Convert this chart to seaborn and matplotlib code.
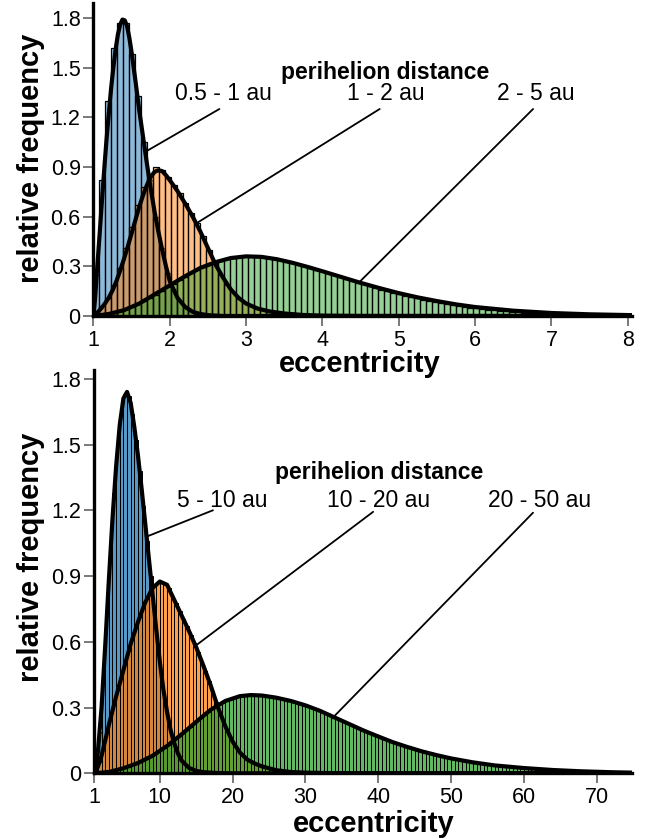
import numpy as np
import pandas as pd
import matplotlib
matplotlib.use("Agg")
import matplotlib.pyplot as plt
import seaborn as sns
from matplotlib.colors import to_rgba

sns.set_style("ticks")
plt.rcParams["font.family"] = ["Liberation Sans", "DejaVu Sans"]
plt.rcParams["text.color"] = "black"
plt.rcParams["axes.labelcolor"] = "black"

# ---------------- data: top panel (perihelion 0.5-5 au) ----------------
top_labels = ["0.5 - 1 au", "1 - 2 au", "2 - 5 au"]
top_xticks = [1, 2, 3, 4, 5, 6, 7, 8]
top_bin_width = 7 / 90

top_blue_bars = [0.25, 0.82, 1.30, 1.62, 1.77, 1.77, 1.58, 1.33, 1.05, 0.82, 0.60, 0.41,
                 0.26, 0.16, 0.09, 0.05, 0.028, 0.016, 0.009, 0.005]
top_orange_bars = [0.02, 0.06, 0.11, 0.19, 0.29, 0.41, 0.54, 0.67, 0.78, 0.86, 0.90, 0.88,
                   0.84, 0.79, 0.74, 0.68, 0.62, 0.56, 0.48, 0.40, 0.32, 0.25, 0.19, 0.145,
                   0.105, 0.078, 0.058, 0.045, 0.034, 0.026, 0.019, 0.014, 0.010, 0.007, 0.005]
top_green_bars = [0.002, 0.005, 0.011, 0.020, 0.030, 0.042, 0.055, 0.071, 0.088, 0.107,
                  0.128, 0.150, 0.172, 0.195, 0.216, 0.238, 0.258, 0.277, 0.293, 0.308,
                  0.322, 0.334, 0.344, 0.352, 0.357, 0.360, 0.361, 0.360, 0.357, 0.352,
                  0.346, 0.339, 0.331, 0.322, 0.312, 0.302, 0.291, 0.280, 0.269, 0.258,
                  0.247, 0.236, 0.225, 0.213, 0.202, 0.191, 0.180, 0.170, 0.159, 0.149,
                  0.140, 0.131, 0.122, 0.114, 0.106, 0.098, 0.091, 0.084, 0.078, 0.072,
                  0.066, 0.061, 0.056, 0.051, 0.047, 0.043, 0.039, 0.035, 0.032, 0.029,
                  0.026, 0.023, 0.020, 0.018, 0.016, 0.014]

top_blue_curve_x = [1.00, 1.02, 1.05, 1.08, 1.11, 1.14, 1.17, 1.20, 1.23, 1.26, 1.29, 1.32,
                    1.35, 1.38, 1.41, 1.44, 1.47, 1.50, 1.55, 1.60, 1.65, 1.70, 1.75, 1.80,
                    1.85, 1.90, 1.95, 2.00, 2.10, 2.20, 2.30, 2.40, 2.50, 2.70, 8.06]
top_blue_curve_y = [0.00, 0.10, 0.30, 0.49, 0.69, 0.88, 1.06, 1.22, 1.37, 1.50, 1.61, 1.70,
                    1.76, 1.79, 1.785, 1.75, 1.68, 1.59, 1.42, 1.24, 1.08, 0.92, 0.77, 0.63,
                    0.51, 0.40, 0.30, 0.21, 0.11, 0.055, 0.025, 0.012, 0.005, 0.0, 0.0]
top_orange_curve_x = [1.00, 1.05, 1.10, 1.15, 1.20, 1.25, 1.30, 1.35, 1.40, 1.45, 1.50, 1.55,
                      1.60, 1.65, 1.70, 1.75, 1.80, 1.85, 1.90, 1.95, 2.00, 2.10, 2.20, 2.30,
                      2.40, 2.50, 2.60, 2.70, 2.80, 2.90, 3.00, 3.15, 3.30, 3.50, 3.75, 4.00,
                      4.50, 8.06]
top_orange_curve_y = [0.00, 0.02, 0.045, 0.075, 0.11, 0.155, 0.21, 0.275, 0.345, 0.42, 0.50,
                      0.58, 0.66, 0.73, 0.79, 0.84, 0.87, 0.88, 0.875, 0.85, 0.82, 0.755,
                      0.68, 0.60, 0.51, 0.41, 0.31, 0.23, 0.16, 0.11, 0.075, 0.045, 0.028,
                      0.015, 0.006, 0.002, 0.0, 0.0]
top_green_curve_x = [1.0, 1.2, 1.4, 1.6, 1.8, 2.0, 2.2, 2.4, 2.6, 2.8, 3.0, 3.2, 3.4, 3.6,
                     3.8, 4.0, 4.25, 4.5, 4.75, 5.0, 5.25, 5.5, 5.75, 6.0, 6.5, 7.0, 7.5, 8.06]
top_green_curve_y = [0.0, 0.012, 0.035, 0.075, 0.13, 0.185, 0.24, 0.29, 0.325, 0.35, 0.36,
                     0.357, 0.343, 0.322, 0.297, 0.27, 0.235, 0.20, 0.168, 0.138, 0.112,
                     0.09, 0.07, 0.054, 0.032, 0.018, 0.01, 0.005]

# ---------------- data: bottom panel (perihelion 5-50 au) ----------------
bot_labels = ["5 - 10 au", "10 - 20 au", "20 - 50 au"]
bot_xticks = [1, 10, 20, 30, 40, 50, 60, 70]
bot_bin_width = 0.5

bot_blue_bars = [0.05, 0.19, 0.44, 0.73, 1.02, 1.28, 1.50, 1.65, 1.73, 1.72, 1.64, 1.52,
                 1.38, 1.22, 1.06, 0.90, 0.74, 0.58, 0.44, 0.33, 0.24, 0.165, 0.11, 0.074,
                 0.05, 0.033, 0.021, 0.014, 0.009, 0.006, 0.004, 0.002]
bot_orange_bars = [0.01, 0.05, 0.11, 0.185, 0.255, 0.32, 0.38, 0.44, 0.50, 0.56, 0.615,
                   0.665, 0.715, 0.76, 0.80, 0.83, 0.855, 0.87, 0.875, 0.865, 0.845, 0.81,
                   0.775, 0.74, 0.705, 0.67, 0.63, 0.595, 0.555, 0.51, 0.465, 0.42, 0.375,
                   0.325, 0.28, 0.235, 0.195, 0.16, 0.13, 0.105, 0.085, 0.07, 0.058, 0.048,
                   0.041, 0.034, 0.028, 0.023, 0.019, 0.015, 0.012, 0.010, 0.008, 0.006,
                   0.005, 0.004, 0.003, 0.002]
bot_green_bars = [0.000, 0.001, 0.003, 0.005, 0.007, 0.010, 0.015, 0.020, 0.025, 0.031,
                  0.037, 0.044, 0.051, 0.059, 0.067, 0.076, 0.085, 0.095, 0.105, 0.117,
                  0.130, 0.143, 0.157, 0.171, 0.185, 0.199, 0.213, 0.227, 0.241, 0.255,
                  0.268, 0.281, 0.293, 0.304, 0.314, 0.323, 0.332, 0.339, 0.345, 0.350,
                  0.353, 0.356, 0.357, 0.358, 0.357, 0.356, 0.354, 0.351, 0.348, 0.345,
                  0.341, 0.337, 0.333, 0.328,
                  0.327, 0.322, 0.317, 0.312, 0.307, 0.301, 0.295, 0.289, 0.282, 0.275,
                  0.268, 0.261, 0.253, 0.246, 0.238, 0.231, 0.223, 0.215, 0.207, 0.199,
                  0.192, 0.185, 0.178, 0.171, 0.165, 0.158, 0.152, 0.146, 0.140, 0.134,
                  0.128, 0.123, 0.118, 0.113, 0.108, 0.103, 0.099, 0.094, 0.090, 0.086,
                  0.082, 0.078, 0.074, 0.071, 0.068, 0.065, 0.062, 0.059, 0.056, 0.053,
                  0.050, 0.048, 0.045, 0.043, 0.041, 0.039, 0.037, 0.035, 0.033, 0.031,
                  0.029, 0.028, 0.026, 0.025, 0.023, 0.022, 0.021, 0.019, 0.018, 0.017]

bot_blue_curve_x = [1, 1.5, 2, 2.5, 3, 3.5, 4, 4.5, 5, 5.5, 6, 6.5, 7, 7.5, 8, 8.5, 9, 9.5,
                    10, 10.5, 11, 11.5, 12, 12.5, 13, 14, 15, 16, 18, 20, 75]
bot_blue_curve_y = [0, 0.10, 0.30, 0.58, 0.88, 1.16, 1.40, 1.59, 1.71, 1.74, 1.69, 1.58,
                    1.45, 1.30, 1.14, 0.98, 0.82, 0.66, 0.51, 0.38, 0.28, 0.195, 0.135,
                    0.09, 0.058, 0.025, 0.011, 0.005, 0.001, 0, 0]
bot_orange_curve_x = [1, 1.5, 2, 3, 4, 5, 6, 7, 8, 9, 10, 11, 12, 13, 14, 15, 16, 17, 18,
                      19, 20, 21, 22, 23, 24, 26, 28, 30, 35, 75]
bot_orange_curve_y = [0, 0.03, 0.08, 0.22, 0.35, 0.47, 0.59, 0.69, 0.78, 0.845, 0.875,
                      0.86, 0.79, 0.72, 0.65, 0.575, 0.49, 0.40, 0.30, 0.215, 0.145, 0.095,
                      0.063, 0.045, 0.032, 0.014, 0.006, 0.003, 0, 0]
bot_green_curve_x = [1, 3, 5, 7, 9, 11, 13, 15, 17, 19, 21, 22.5, 24, 26, 28, 30, 32, 34,
                     36, 38, 40, 42, 44, 46, 48, 50, 53, 56, 60, 64, 68, 72, 75]
bot_green_curve_y = [0, 0.006, 0.023, 0.047, 0.08, 0.125, 0.178, 0.235, 0.29, 0.33, 0.352,
                     0.357, 0.355, 0.345, 0.33, 0.31, 0.285, 0.255, 0.225, 0.195, 0.168,
                     0.142, 0.12, 0.10, 0.083, 0.068, 0.05, 0.036, 0.024, 0.015, 0.009,
                     0.005, 0.003]

yticks = [0, 0.3, 0.6, 0.9, 1.2, 1.5, 1.8]
ytick_labels = ["0", "0.3", "0.6", "0.9", "1.2", "1.5", "1.8"]

COLORS = ["#1f77b4", "#ff7f0e", "#2ca02c"]


def draw_hist(ax, heights, width, color, alpha, lw):
    n = len(heights)
    lo, hi = 1.0, 1.0 + width * n
    centers = lo + width * (np.arange(n) + 0.5)
    df = pd.DataFrame({"ecc": centers, "freq": np.asarray(heights, dtype=float)})
    before = len(ax.patches)
    sns.histplot(data=df, x="ecc", weights="freq", bins=n, binrange=(lo, hi), ax=ax,
                 stat="count", color=color, element="bars", fill=True, legend=False)
    for p in ax.patches[before:]:
        p.set_facecolor(to_rgba(color, alpha))
        p.set_edgecolor("black")
        p.set_linewidth(lw)


def draw_curve(ax, xs, ys):
    df = pd.DataFrame({"ecc": xs, "freq": ys})
    sns.lineplot(data=df, x="ecc", y="freq", ax=ax, color="black", linewidth=3.0,
                 sort=True, estimator=None, zorder=5, solid_capstyle="round")


def style_axes(ax, xlim, ylim, xticks):
    ax.set_xlim(*xlim)
    ax.set_ylim(*ylim)
    ax.set_xticks(xticks)
    ax.set_xticklabels([str(t) for t in xticks])
    ax.set_yticks(yticks)
    ax.set_yticklabels(ytick_labels)
    for s in ["top", "right"]:
        ax.spines[s].set_visible(False)
    ax.spines["left"].set_linewidth(2.4)
    ax.spines["bottom"].set_linewidth(2.4)
    ax.spines["left"].set_color("black")
    ax.spines["bottom"].set_color("black")
    ax.patch.set_alpha(0)
    ax.tick_params(direction="out", length=7, width=1.1, color="#555555",
                   labelsize=15.5, labelcolor="black")
    ax.tick_params(axis="y", pad=2.2)
    ax.tick_params(axis="x", pad=3.0)


fig = plt.figure(figsize=(6.56, 8.39), dpi=100)
ax1 = fig.add_axes([0.1425, 0.6234, 0.8209, 0.373])
ax2 = fig.add_axes([0.1437, 0.0783, 0.8197, 0.4807])

# ---- top panel ----
for h, c in zip([top_blue_bars, top_orange_bars, top_green_bars], COLORS):
    draw_hist(ax1, h, top_bin_width, c, 0.5, 0.9)
for xs, ys in [(top_blue_curve_x, top_blue_curve_y),
               (top_orange_curve_x, top_orange_curve_y),
               (top_green_curve_x, top_green_curve_y)]:
    draw_curve(ax1, xs, ys)
style_axes(ax1, (1, 8.056), (0, 1.89), top_xticks)

ax1.text(4.82, 1.434, "perihelion distance", ha="center", va="baseline",
         fontsize=16.5, fontweight="bold")
for x, lab in zip([2.70, 4.83, 6.80], top_labels):
    ax1.text(x, 1.303, lab, ha="center", va="baseline", fontsize=16.5)
for (x0, y0), (x1, y1) in [((2.65, 1.25), (1.697, 0.996)),
                           ((4.75, 1.25), (2.35, 0.56)),
                           ((6.76, 1.25), (4.47, 0.198))]:
    ax1.plot([x0, x1], [y0, y1], color="black", lw=1.3, zorder=6)

ax1.set_xlabel("eccentricity", fontsize=21, fontweight="bold")
ax1.set_ylabel("relative frequency", fontsize=21, fontweight="bold")
ax1.xaxis.label.set(va="center", ha="center")
ax1.yaxis.label.set(va="center", ha="center", rotation_mode="default")
ax1.xaxis.set_label_coords(0.495, -0.155)
ax1.yaxis.set_label_coords(-0.116, 0.505)

# ---- bottom panel ----
for h, c in zip([bot_blue_bars, bot_orange_bars, bot_green_bars], COLORS):
    draw_hist(ax2, h, bot_bin_width, c, 0.75, 0.7)
for xs, ys in [(bot_blue_curve_x, bot_blue_curve_y),
               (bot_orange_curve_x, bot_orange_curve_y),
               (bot_green_curve_x, bot_green_curve_y)]:
    draw_curve(ax2, xs, ys)
style_axes(ax2, (1, 74.85), (0, 1.84), bot_xticks)

ax2.text(40.1, 1.342, "perihelion distance", ha="center", va="baseline",
         fontsize=16.5, fontweight="bold")
for x, lab in zip([18.54, 40.1, 62.1], bot_labels):
    ax2.text(x, 1.215, lab, ha="center", va="baseline", fontsize=16.5)
for (x0, y0), (x1, y1) in [((17.3, 1.20), (8.2, 1.08)),
                           ((39.3, 1.193), (15.07, 0.586)),
                           ((61.26, 1.189), (33.65, 0.25))]:
    ax2.plot([x0, x1], [y0, y1], color="black", lw=1.3, zorder=6)

ax2.set_xlabel("eccentricity", fontsize=21, fontweight="bold")
ax2.set_ylabel("relative frequency", fontsize=21, fontweight="bold")
ax2.xaxis.label.set(va="center", ha="center")
ax2.yaxis.label.set(va="center", ha="center", rotation_mode="default")
ax2.xaxis.set_label_coords(0.519, -0.126)
ax2.yaxis.set_label_coords(-0.118, 0.535)

fig.savefig("out.png", dpi=100)
